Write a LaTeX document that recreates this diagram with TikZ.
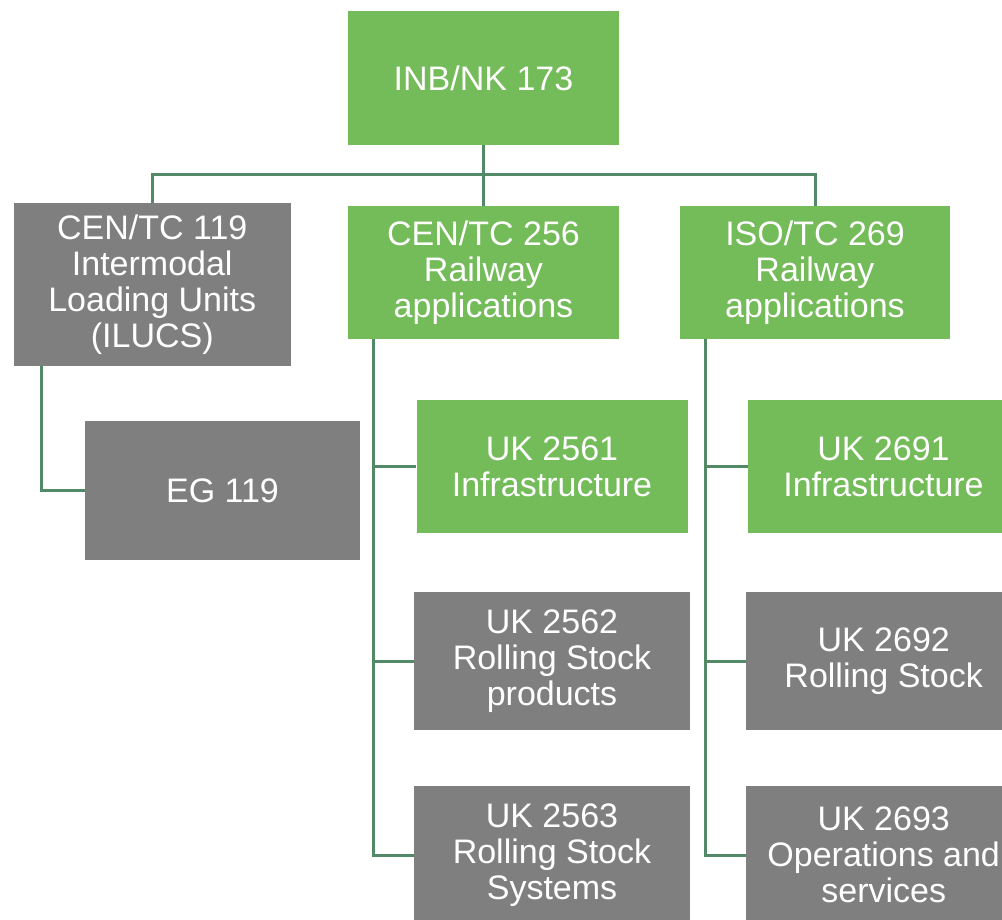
\documentclass[tikz,border=0pt]{standalone}
\usepackage{fontspec}
\setmainfont{Liberation Sans}
\usetikzlibrary{calc}
\definecolor{boxgreen}{HTML}{74BB59}
\definecolor{boxgrey}{HTML}{7F7F7F}
\definecolor{linegreen}{HTML}{528A68}
\begin{document}
\begin{tikzpicture}[x=1pt,y=-1pt,
  box/.style={rectangle, inner sep=0pt, align=center, text=white,
    font=\fontsize{34pt}{36pt}\selectfont},
  gbox/.style={box, fill=boxgreen},
  ybox/.style={box, fill=boxgrey},
  conn/.style={draw=linegreen, line width=3pt}]
\useasboundingbox (0,0) rectangle (1002,920);
\clip (0,0) rectangle (1002,920);
\node[gbox, minimum width=271pt, minimum height=134pt] (top) at (483.5,78) {INB/NK 173};
\node[ybox, minimum width=276.5pt, minimum height=163pt] (c119) at (152.25,284.5) {CEN/TC 119\\Intermodal\\Loading Units\\(ILUCS)};
\node[gbox, minimum width=271pt, minimum height=133pt] (c256) at (483.5,272.5) {CEN/TC 256\\Railway\\applications};
\node[gbox, minimum width=270pt, minimum height=133pt] (i269) at (815,272.5) {ISO/TC 269\\Railway\\applications};
\node[ybox, minimum width=275pt, minimum height=139pt] (eg) at (222.5,490.5) {EG 119};
\node[gbox, minimum width=271pt, minimum height=133pt] (u2561) at (552,466.5) {UK 2561\\Infrastructure};
\node[ybox, minimum width=276pt, minimum height=138pt] (u2562) at (552,661) {UK 2562\\Rolling Stock\\products};
\node[ybox, minimum width=276pt, minimum height=138pt] (u2563) at (552,855) {UK 2563\\Rolling Stock\\Systems};
\node[gbox, minimum width=271pt, minimum height=133pt] (u2691) at (883.5,466.5) {UK 2691\\Infrastructure};
\node[ybox, minimum width=276pt, minimum height=138pt] (u2692) at (883.7,661) {UK 2692\\Rolling Stock};
\node[ybox, minimum width=276pt, minimum height=138pt] (u2693) at (883.7,855) {UK 2693\\Operations and\\services};
\coordinate (bus) at (0,175);
% top level
\draw[conn] (top.south) -- (c256.north);
\draw[conn] (c119.north) -- (c119.north |- bus) -- (i269.north |- bus) -- (i269.north);
% left branch
\coordinate (lv) at ([xshift=28pt]c119.south west);
\draw[conn] (lv) |- (eg.west);
% middle branch
\coordinate (mv) at ([xshift=26pt]c256.south west);
\draw[conn] (mv) |- (u2563.west);
\draw[conn] (mv |- u2561.west) -- (u2561.west);
\draw[conn] (mv |- u2562.west) -- (u2562.west);
% right branch
\coordinate (rv) at ([xshift=26pt]i269.south west);
\draw[conn] (rv) |- (u2693.west);
\draw[conn] (rv |- u2691.west) -- (u2691.west);
\draw[conn] (rv |- u2692.west) -- (u2692.west);
\end{tikzpicture}
\end{document}
